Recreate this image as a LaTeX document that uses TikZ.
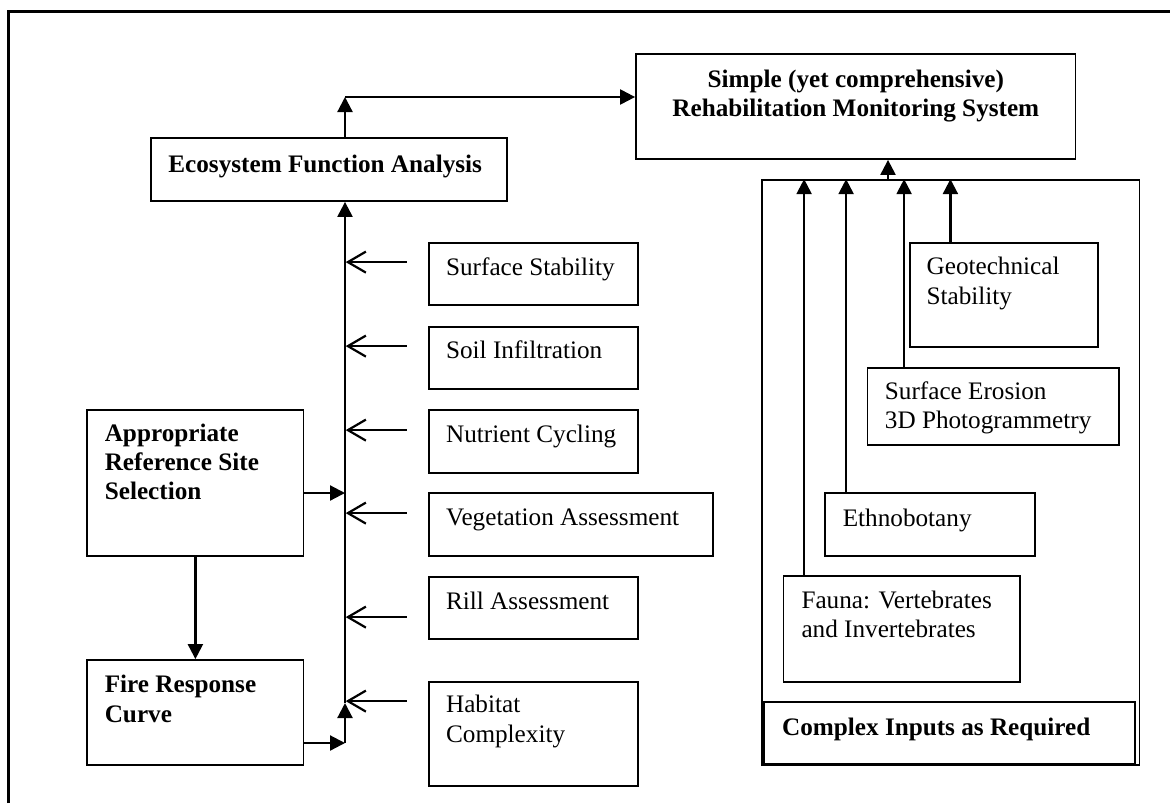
\documentclass[tikz,border=0pt]{standalone}
\usepackage{fontspec}
\setmainfont{Liberation Serif}
\usetikzlibrary{positioning,arrows.meta,fit}

\tikzset{
  txt/.style={font=\fontsize{12.6}{14.6}\selectfont},
  bold/.style={font=\fontsize{12.6}{14.6}\selectfont\bfseries},
  box/.style={draw,line width=0.9pt,inner sep=0pt},
  boxtxt/.style={anchor=base west,inner sep=0pt,align=left},
  link/.style={line width=1.1pt,-{Triangle[length=7.5pt,width=7.5pt]}},
  feed/.style={line width=1.1pt,-{Straight Barb[length=9pt,width=10.5pt]}},
}

\begin{document}
\begin{tikzpicture}[x=0.5pt,y=-0.5pt]
\useasboundingbox (0,0) rectangle (1170,803);
\draw[line width=1.4pt] (8.4,803) -- (8.4,11.7) -- (1170,11.7);

% main blocks (multi-line text sits on its last baseline)
\node[box,fit={(151,138) (507,201)}] (efa) {};
\node[boxtxt,bold] (efat) at (168,172) {Ecosystem Function Analysis};
\node[box,fit={(636,54) (1075.5,159)}] (srms) {};
\node[bold,anchor=base,align=center,inner sep=0pt] (srmst) at (855.8,116.5) {Simple (yet comprehensive)\\Rehabilitation Monitoring System};
\node[box,fit={(87.3,410) (303.5,556)}] (arss) {};
\node[boxtxt,bold] (arsst) at ([shift={(18,90.5)}]arss.north west) {Appropriate\\Reference Site\\Selection};
\node[box,fit={(87.3,660) (303.5,765)}] (frc) {};
\node[boxtxt,bold] (frct) at ([shift={(18,63)}]frc.north west) {Fire Response\\Curve};

% field measures
\node[box,fit={(428.6,243) (637.6,305)}] (ss) {};
\node[boxtxt,txt] (sst) at ([shift={(18,33.5)}]ss.north west) {Surface Stability};
\node[box,fit={(428.6,327) (637.6,389)}] (soil) {};
\node[boxtxt,txt] (soilt) at ([shift={(18,32.5)}]soil.north west) {Soil Infiltration};
\node[box,fit={(428.6,410) (637.6,473)}] (nut) {};
\node[boxtxt,txt] (nutt) at ([shift={(18,33)}]nut.north west) {Nutrient Cycling};
\node[box,fit={(428.6,493) (713,556)}] (veg) {};
\node[boxtxt,txt] (vegt) at ([shift={(18,33.5)}]veg.north west) {Vegetation Assessment};
\node[box,fit={(428.6,577) (637.6,639)}] (rill) {};
\node[boxtxt,txt] (rillt) at ([shift={(18,33)}]rill.north west) {Rill Assessment};
\node[box,fit={(428.6,682) (637.6,786)}] (hab) {};
\node[boxtxt,txt] (habt) at ([shift={(18,61)}]hab.north west) {Habitat\\Complexity};

% complex inputs
\node[box,fit={(762,180) (1139.5,765)}] (cplx) {};
\node[box,fit={(763.6,702) (1135.3,764)}] (cin) {};
\node[boxtxt,bold] (cint) at ([shift={(19,34)}]cin.north west) {Complex Inputs as Required};
\node[box,fit={(909.6,243) (1097.7,347)}] (geo) {};
\node[boxtxt,txt] (geot) at ([shift={(17.5,62)}]geo.north west) {Geotechnical\\Stability};
\node[box,fit={(867.4,368) (1118.7,445)}] (sero) {};
\node[boxtxt,txt] (serot) at ([shift={(18,61.5)}]sero.north west) {Surface Erosion\\3D Photogrammetry};
\node[box,fit={(825.3,493) (1035,556)}] (ethno) {};
\node[boxtxt,txt] (ethnot) at ([shift={(18,34)}]ethno.north west) {Ethnobotany};
\node[box,fit={(783.5,576) (1019.8,682)}] (fauna) {};
\node[boxtxt,txt] (faunat) at ([shift={(18.5,62.5)}]fauna.north west) {Fauna: Vertebrates\\and Invertebrates};

% spine and links
\coordinate (foot) at (345,743);
\coordinate (knee) at (345,703);
\coordinate (join) at (345,493);
\coordinate (elbow) at (345,97);
\coordinate (hub) at (888,180);

\draw[link] (arss.south) -- (frc.north);
\draw[link] (arss.east |- join) -- (join);
\draw[link] (frc.east |- foot) -- (foot);
\draw[link] (foot) -- (knee);
\draw[link] (knee) -- (knee |- efa.south);
\draw[link] (efa.north -| elbow) -- (elbow);
\draw[link] (elbow) -- (elbow -| srms.west);
\draw[link] (hub) -- (hub |- srms.south);

\foreach \b/\dy in {ss/20,soil/20,nut/21,veg/21,rill/41,hab/20}
  \draw[feed] ([shift={(-21,\dy)}]\b.north west) -- ([shift={(-82,\dy)}]\b.north west);

\foreach \b/\dx in {fauna/21.5,ethno/21.7,sero/37.6,geo/41.7}{
  \coordinate (s) at ([shift={(\dx,0)}]\b.north west);
  \draw[link] (s) -- (s |- cplx.north);
}
\end{tikzpicture}
\end{document}
